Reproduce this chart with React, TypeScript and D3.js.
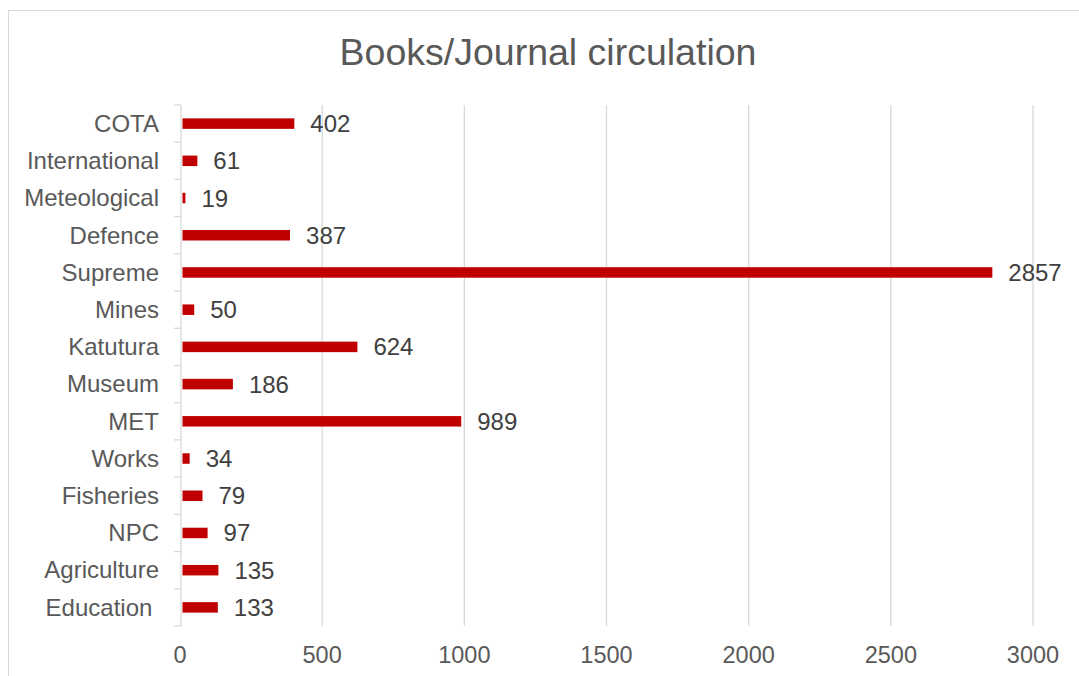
import React, { useEffect, useRef } from "react";
import * as d3 from "d3";

// Circulation counts by library, listed top to bottom
const categories = [
  "COTA",
  "International",
  "Meteological",
  "Defence",
  "Supreme",
  "Mines",
  "Katutura",
  "Museum",
  "MET",
  "Works",
  "Fisheries",
  "NPC",
  "Agriculture",
  "Education ",
];
const circulation = [402, 61, 19, 387, 2857, 50, 624, 186, 989, 34, 79, 97, 135, 133];
const xTicks = [0, 500, 1000, 1500, 2000, 2500, 3000];
const title = "Books/Journal circulation";

const W = 1079;
const H = 676;
const FONT = "'Liberation Sans', Arial, sans-serif";

export default function App() {
  const ref = useRef<SVGSVGElement | null>(null);

  useEffect(() => {
    const svg = d3.select(ref.current);
    svg.selectAll("*").remove();

    const x = d3.scaleLinear().domain([0, 3000]).range([180, 1033]);
    const y = d3.scaleBand<string>().domain(categories).range([105, 626]).paddingInner(0).paddingOuter(0);
    const barH = 10.5;
    const axisX = 181;

    // chart frame
    svg
      .append("rect")
      .attr("x", 8.5)
      .attr("y", 10.5)
      .attr("width", W + 20)
      .attr("height", H + 20)
      .attr("fill", "#fff")
      .attr("stroke", "#d9d9d9")
      .attr("stroke-width", 1);

    svg
      .append("text")
      .attr("x", 548)
      .attr("y", 65)
      .attr("text-anchor", "middle")
      .attr("font-family", FONT)
      .attr("font-size", 37.5)
      .attr("fill", "#595959")
      .text(title);

    // vertical gridlines
    svg
      .append("g")
      .selectAll("line")
      .data(xTicks.filter((t) => t > 0))
      .join("line")
      .attr("x1", (d) => x(d))
      .attr("x2", (d) => x(d))
      .attr("y1", 105)
      .attr("y2", 626)
      .attr("stroke", "#d9d9d9")
      .attr("stroke-width", 1.3);

    // category axis with tick marks at band edges
    const axisG = svg.append("g");
    axisG
      .append("line")
      .attr("x1", axisX)
      .attr("x2", axisX)
      .attr("y1", 105)
      .attr("y2", 626)
      .attr("stroke", "#d9d9d9")
      .attr("stroke-width", 1.3);
    const edges = categories.map((c) => y(c) as number).concat([626]);
    axisG
      .selectAll("line.tick")
      .data(edges)
      .join("line")
      .attr("class", "tick")
      .attr("x1", 174)
      .attr("x2", axisX)
      .attr("y1", (d) => d)
      .attr("y2", (d) => d)
      .attr("stroke", "#d9d9d9")
      .attr("stroke-width", 1.3);

    axisG
      .selectAll("text")
      .data(categories)
      .join("text")
      .attr("x", 159)
      .attr("y", (d) => (y(d) as number) + y.bandwidth() / 2 + 8.3)
      .attr("text-anchor", "end")
      .attr("font-family", FONT)
      .attr("font-size", 24)
      .attr("fill", "#595959")
      .style("white-space", "pre")
      .text((d) => d);

    // value axis labels
    svg
      .append("g")
      .selectAll("text")
      .data(xTicks)
      .join("text")
      .attr("x", (d) => x(d))
      .attr("y", 663)
      .attr("text-anchor", "middle")
      .attr("font-family", FONT)
      .attr("font-size", 23.5)
      .attr("fill", "#595959")
      .text((d) => String(d));

    const rows = categories.map((c, i) => ({ c, v: circulation[i] }));

    // bars
    svg
      .append("g")
      .selectAll("rect")
      .data(rows)
      .join("rect")
      .attr("x", axisX + 1.5)
      .attr("y", (d) => (y(d.c) as number) + y.bandwidth() / 2 - barH / 2)
      .attr("width", (d) => Math.max(0, x(d.v) - axisX - 1.5))
      .attr("height", barH)
      .attr("fill", "#c00000");

    // value labels
    svg
      .append("g")
      .selectAll("text")
      .data(rows)
      .join("text")
      .attr("x", (d) => x(d.v) + 16)
      .attr("y", (d) => (y(d.c) as number) + y.bandwidth() / 2 + 8.5)
      .attr("font-family", FONT)
      .attr("font-size", 24)
      .attr("fill", "#404040")
      .text((d) => String(d.v));
  }, []);

  return (
    <svg
      ref={ref}
      width={W}
      height={H}
      style={{ position: "absolute", left: 0, top: 0, display: "block" }}
    />
  );
}
